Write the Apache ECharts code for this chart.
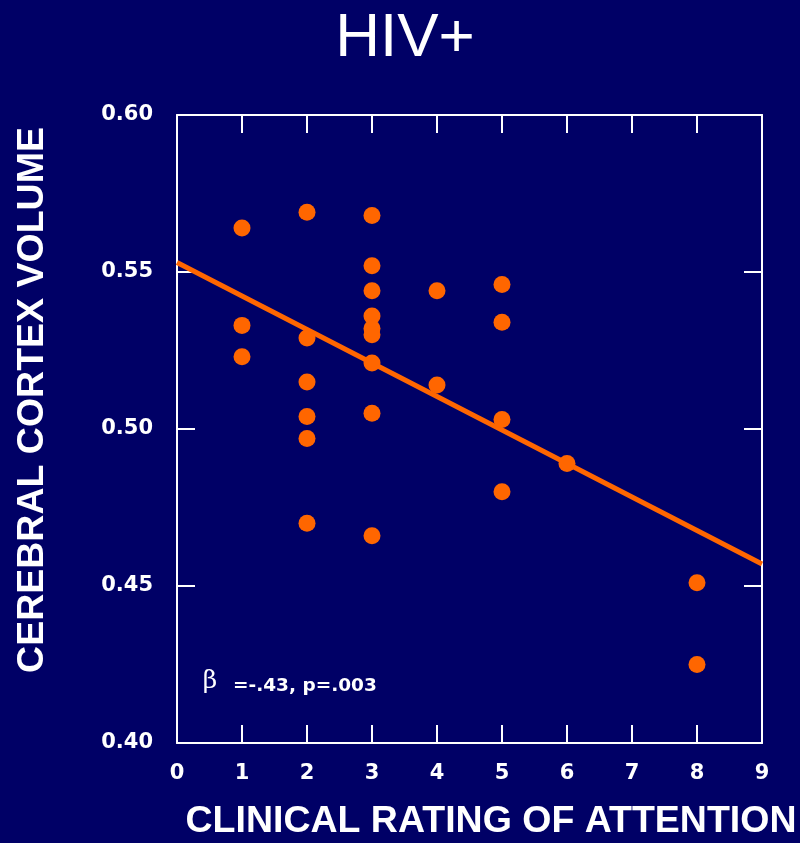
<!DOCTYPE html>
<html>
<head>
<meta charset="utf-8">
<script src="https://cdn.jsdelivr.net/npm/echarts@6/dist/echarts.min.js"></script>
<style>
  html, body { margin: 0; padding: 0; background: #000066; }
  #chart { width: 800px; height: 843px; }
</style>
</head>
<body>
<div id="chart"></div>
<script>
// Clinical rating of attention vs. cerebral cortex volume, HIV+ group
const attention = [1, 1, 1, 2, 2, 2, 2, 2, 2, 3, 3, 3, 3, 3, 3, 3, 3, 3, 4, 4, 5, 5, 5, 5, 6, 8, 8];
const volume = [0.564, 0.533, 0.523,
                0.569, 0.529, 0.515, 0.504, 0.497, 0.470,
                0.568, 0.552, 0.544, 0.536, 0.532, 0.530, 0.521, 0.505, 0.466,
                0.544, 0.514,
                0.546, 0.534, 0.503, 0.480,
                0.489,
                0.451, 0.425];

// Regression line end points
const fitX = [0, 9];
const fitY = [0.553, 0.457];

const xTicks = [0, 1, 2, 3, 4, 5, 6, 7, 8, 9];
const yTicks = [0.40, 0.45, 0.50, 0.55, 0.60];

const titleText = 'HIV+';
const xTitle = 'CLINICAL RATING OF ATTENTION';
const yTitle = 'CEREBRAL CORTEX VOLUME';
const statSymbol = 'β';
const statText = '=-.43, p=.003';

const WHITE = '#ffffff';
const ORANGE = '#ff6600';

const points = attention.map((x, i) => [x, volume[i]]);
const fitLine = fitX.map((x, i) => [x, fitY[i]]);

const tickFont = () => ({ color: WHITE, fontFamily: 'DejaVu Sans', fontWeight: 'bold', fontSize: 21 });
const axisLine = () => ({ show: true, onZero: false, lineStyle: { color: WHITE, width: 2 } });
const tickStyle = () => ({ show: true, inside: true, length: 18, lineStyle: { color: WHITE, width: 2 } });

// Box frame: bottom/left axes carry labels, top/right axes mirror the ticks
function xAx(pos, labelled) {
  return {
    type: 'value', min: xTicks[0], max: xTicks[xTicks.length - 1], interval: 1,
    position: pos,
    axisLine: axisLine(), axisTick: tickStyle(), splitLine: { show: false },
    axisLabel: labelled ? Object.assign({ margin: 20 }, tickFont()) : { show: false }
  };
}
function yAx(pos, labelled) {
  return {
    type: 'value', min: yTicks[0], max: yTicks[yTicks.length - 1], interval: 0.05,
    position: pos,
    axisLine: axisLine(), axisTick: tickStyle(), splitLine: { show: false },
    axisLabel: labelled ? Object.assign({ margin: 24, formatter: v => v.toFixed(2) }, tickFont()) : { show: false }
  };
}

const chart = echarts.init(document.getElementById('chart'), null, { renderer: 'canvas' });
chart.setOption({
  backgroundColor: '#000066',
  animation: false,
  grid: { left: 177, right: 38, top: 115, bottom: 100 },
  xAxis: [xAx('bottom', true), xAx('top', false)],
  yAxis: [yAx('left', true), yAx('right', false)],
  series: [
    {
      type: 'line',
      data: fitLine,
      showSymbol: false,
      symbol: 'none',
      lineStyle: { color: ORANGE, width: 5 },
      z: 2
    },
    {
      type: 'scatter',
      data: points,
      symbol: 'circle',
      symbolSize: 17,
      itemStyle: { color: ORANGE, opacity: 1 },
      z: 3
    }
  ],
  graphic: [
    {
      type: 'text', x: 405, y: 39,
      style: { text: titleText, fill: WHITE, font: '62px "Liberation Sans", Arial, sans-serif',
               textAlign: 'center', textVerticalAlign: 'middle' }
    },
    {
      type: 'text', x: 491, y: 822,
      style: { text: xTitle, fill: WHITE, font: 'bold 37.5px "Liberation Sans", Arial, sans-serif',
               textAlign: 'center', textVerticalAlign: 'middle' }
    },
    {
      type: 'text', x: 33, y: 400, rotation: Math.PI / 2,
      style: { text: yTitle, fill: WHITE, font: 'bold 37.5px "Liberation Sans", Arial, sans-serif',
               textAlign: 'center', textVerticalAlign: 'middle' }
    },
    {
      type: 'text', x: 210, y: 681,
      style: { text: statSymbol, fill: WHITE, font: '25px "DejaVu Serif", serif',
               textAlign: 'center', textVerticalAlign: 'middle' }
    },
    {
      type: 'text', x: 233, y: 686,
      style: { text: statText, fill: WHITE, font: 'bold 18.5px "DejaVu Sans", sans-serif',
               textAlign: 'left', textVerticalAlign: 'middle' }
    }
  ]
});
</script>
</body>
</html>
